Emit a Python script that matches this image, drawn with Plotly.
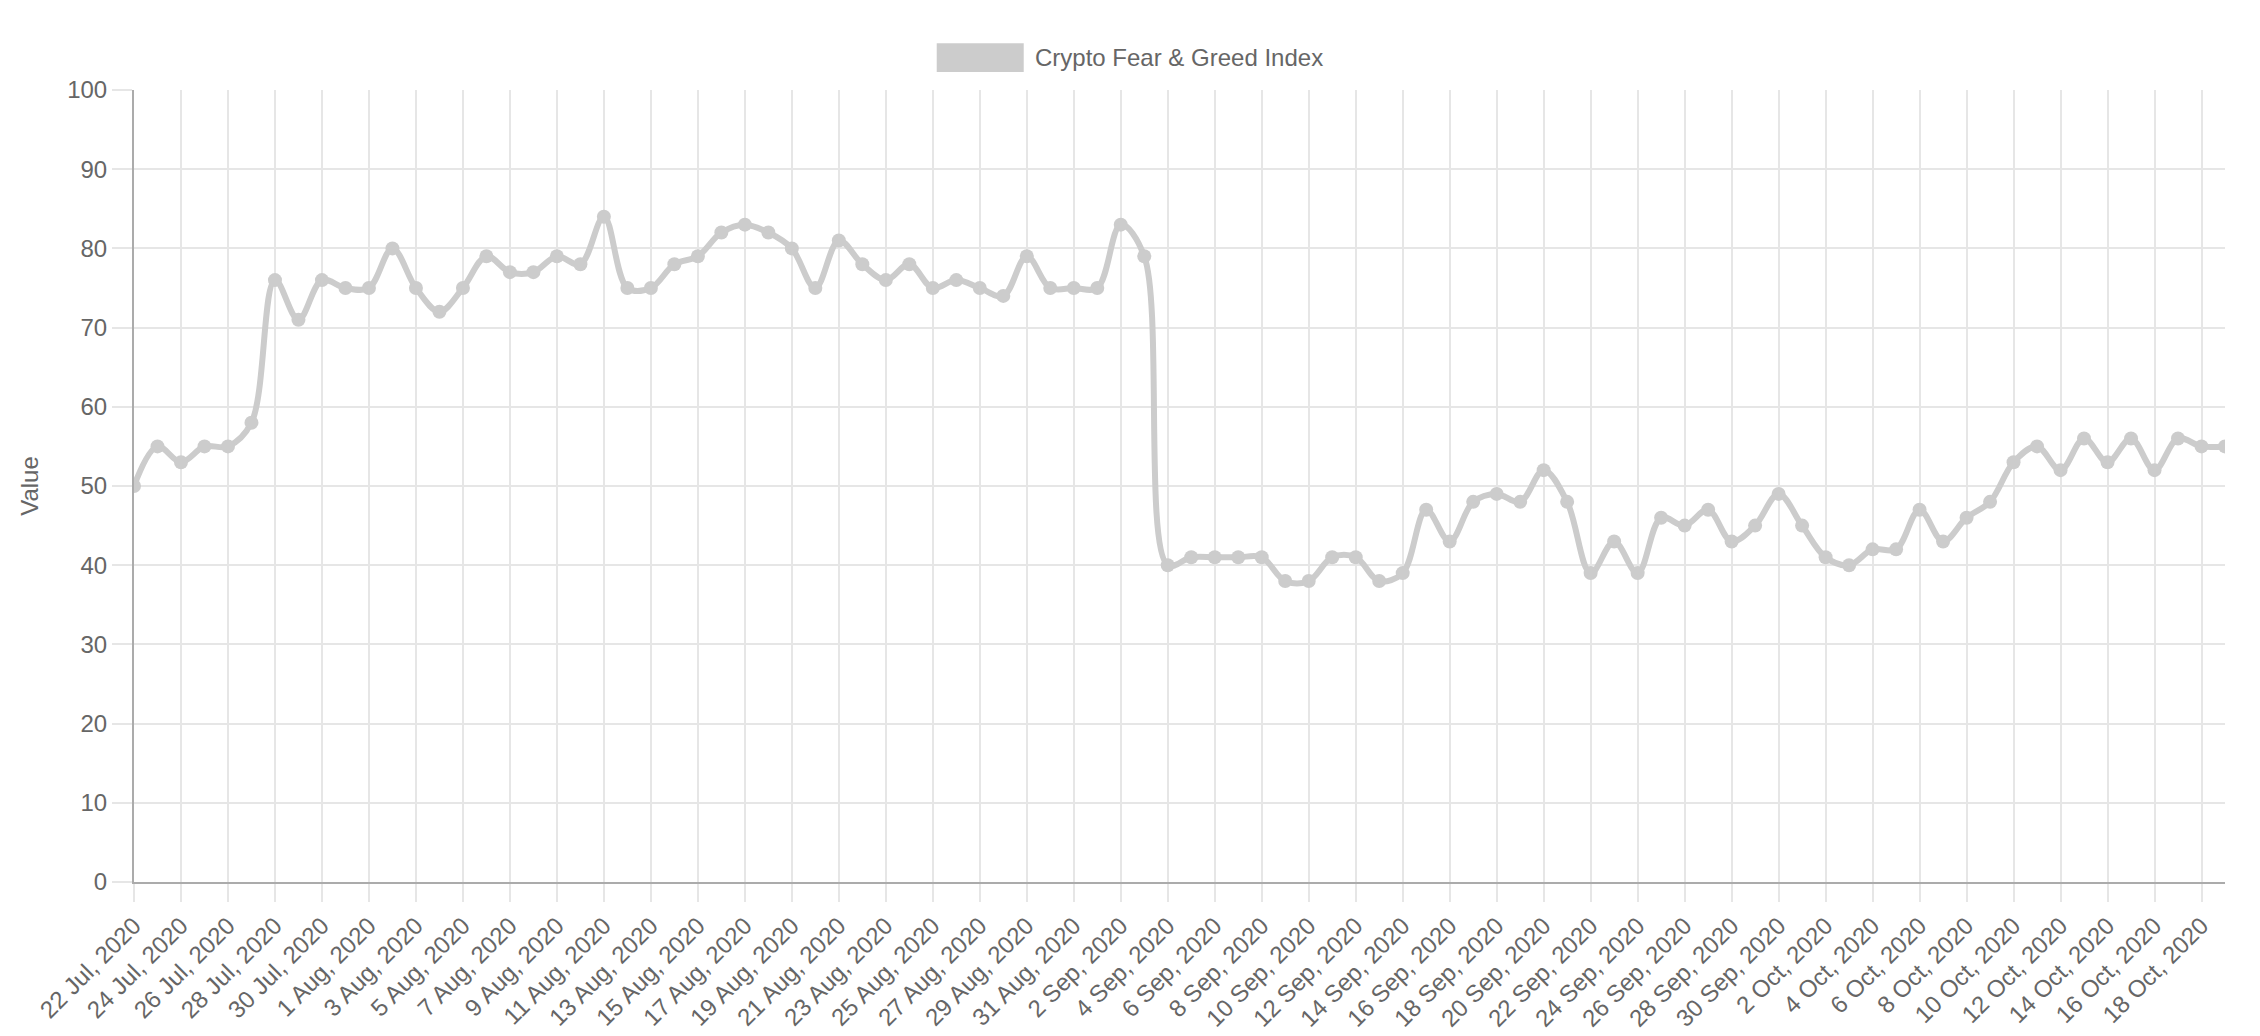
import pandas as pd
import plotly.graph_objects as go

# ---- data ----
start_date = "2020-07-22"
end_date = "2020-10-19"
series_name = "Crypto Fear & Greed Index"
values = [
    # Jul 22 - Jul 31
    50, 55, 53, 55, 55, 58, 76, 71, 76, 75,
    # Aug 1 - Aug 31
    75, 80, 75, 72, 75, 79, 77, 77, 79, 78,
    84, 75, 75, 78, 79, 82, 83, 82, 80, 75,
    81, 78, 76, 78, 75, 76, 75, 74, 79, 75,
    75,
    # Sep 1 - Sep 30
    75, 83, 79, 40, 41, 41, 41, 41, 38, 38,
    41, 41, 38, 39, 47, 43, 48, 49, 48, 52,
    48, 39, 43, 39, 46, 45, 47, 43, 45, 49,
    # Oct 1 - Oct 19
    45, 41, 40, 42, 42, 47, 43, 46, 48, 53,
    55, 52, 56, 53, 56, 52, 56, 55, 55,
]
y_ticks = [0, 10, 20, 30, 40, 50, 60, 70, 80, 90, 100]
y_title = "Value"

dates = pd.date_range(start_date, end_date, freq="D")
tick_dates = dates[::2]

LINE = "rgb(204,204,204)"
GRID = "#e6e6e6"
AXIS = "#ababab"
TEXT = "#666666"
FONT = "Liberation Sans, Arial, Helvetica, sans-serif"

fig = go.Figure()
fig.add_trace(go.Scatter(
    x=dates, y=values, name=series_name,
    mode="lines+markers",
    line=dict(color=LINE, width=6, shape="spline", smoothing=1.0),
    marker=dict(color=LINE, size=14),
    showlegend=False,
))

fig.update_layout(
    width=2260, height=1036,
    margin=dict(l=126, r=43, t=82, b=157),
    paper_bgcolor="white", plot_bgcolor="white",
    font=dict(family=FONT, size=24, color=TEXT),
    xaxis=dict(
        range=[dates[0], dates[-1]],
        tickmode="array",
        tickvals=list(tick_dates),
        ticktext=[f"{d.day} {d.strftime('%b')}, {d.year}" for d in tick_dates],
        tickangle=-45,
        showgrid=True, gridcolor=GRID, gridwidth=2,
        ticks="outside", ticklen=18, tickcolor=GRID, tickwidth=2,
        showline=True, linecolor=AXIS, linewidth=2,
        zeroline=False,
        tickfont=dict(size=24, color=TEXT),
    ),
    yaxis=dict(
        range=[0, 100],
        tickmode="array", tickvals=y_ticks,
        showgrid=True, gridcolor=GRID, gridwidth=2,
        ticks="outside", ticklen=20, tickcolor=GRID, tickwidth=2,
        showline=True, linecolor=AXIS, linewidth=2,
        zeroline=False,
        tickfont=dict(size=24, color=TEXT),
        title=dict(text=y_title, font=dict(size=24, color=TEXT), standoff=22),
    ),
)

# legend drawn as a box + label (Chart.js style)
fig.add_shape(type="rect", xref="paper", yref="paper",
              x0=0.3839, x1=0.4255, y0=1.0226, y1=1.0590,
              fillcolor=LINE, line=dict(width=0), layer="above")
fig.add_annotation(xref="paper", yref="paper", x=0.4297, y=1.0408,
                   text=series_name, showarrow=False,
                   xanchor="left", yanchor="middle",
                   font=dict(family=FONT, size=24, color=TEXT))

fig.write_html("out.html")
